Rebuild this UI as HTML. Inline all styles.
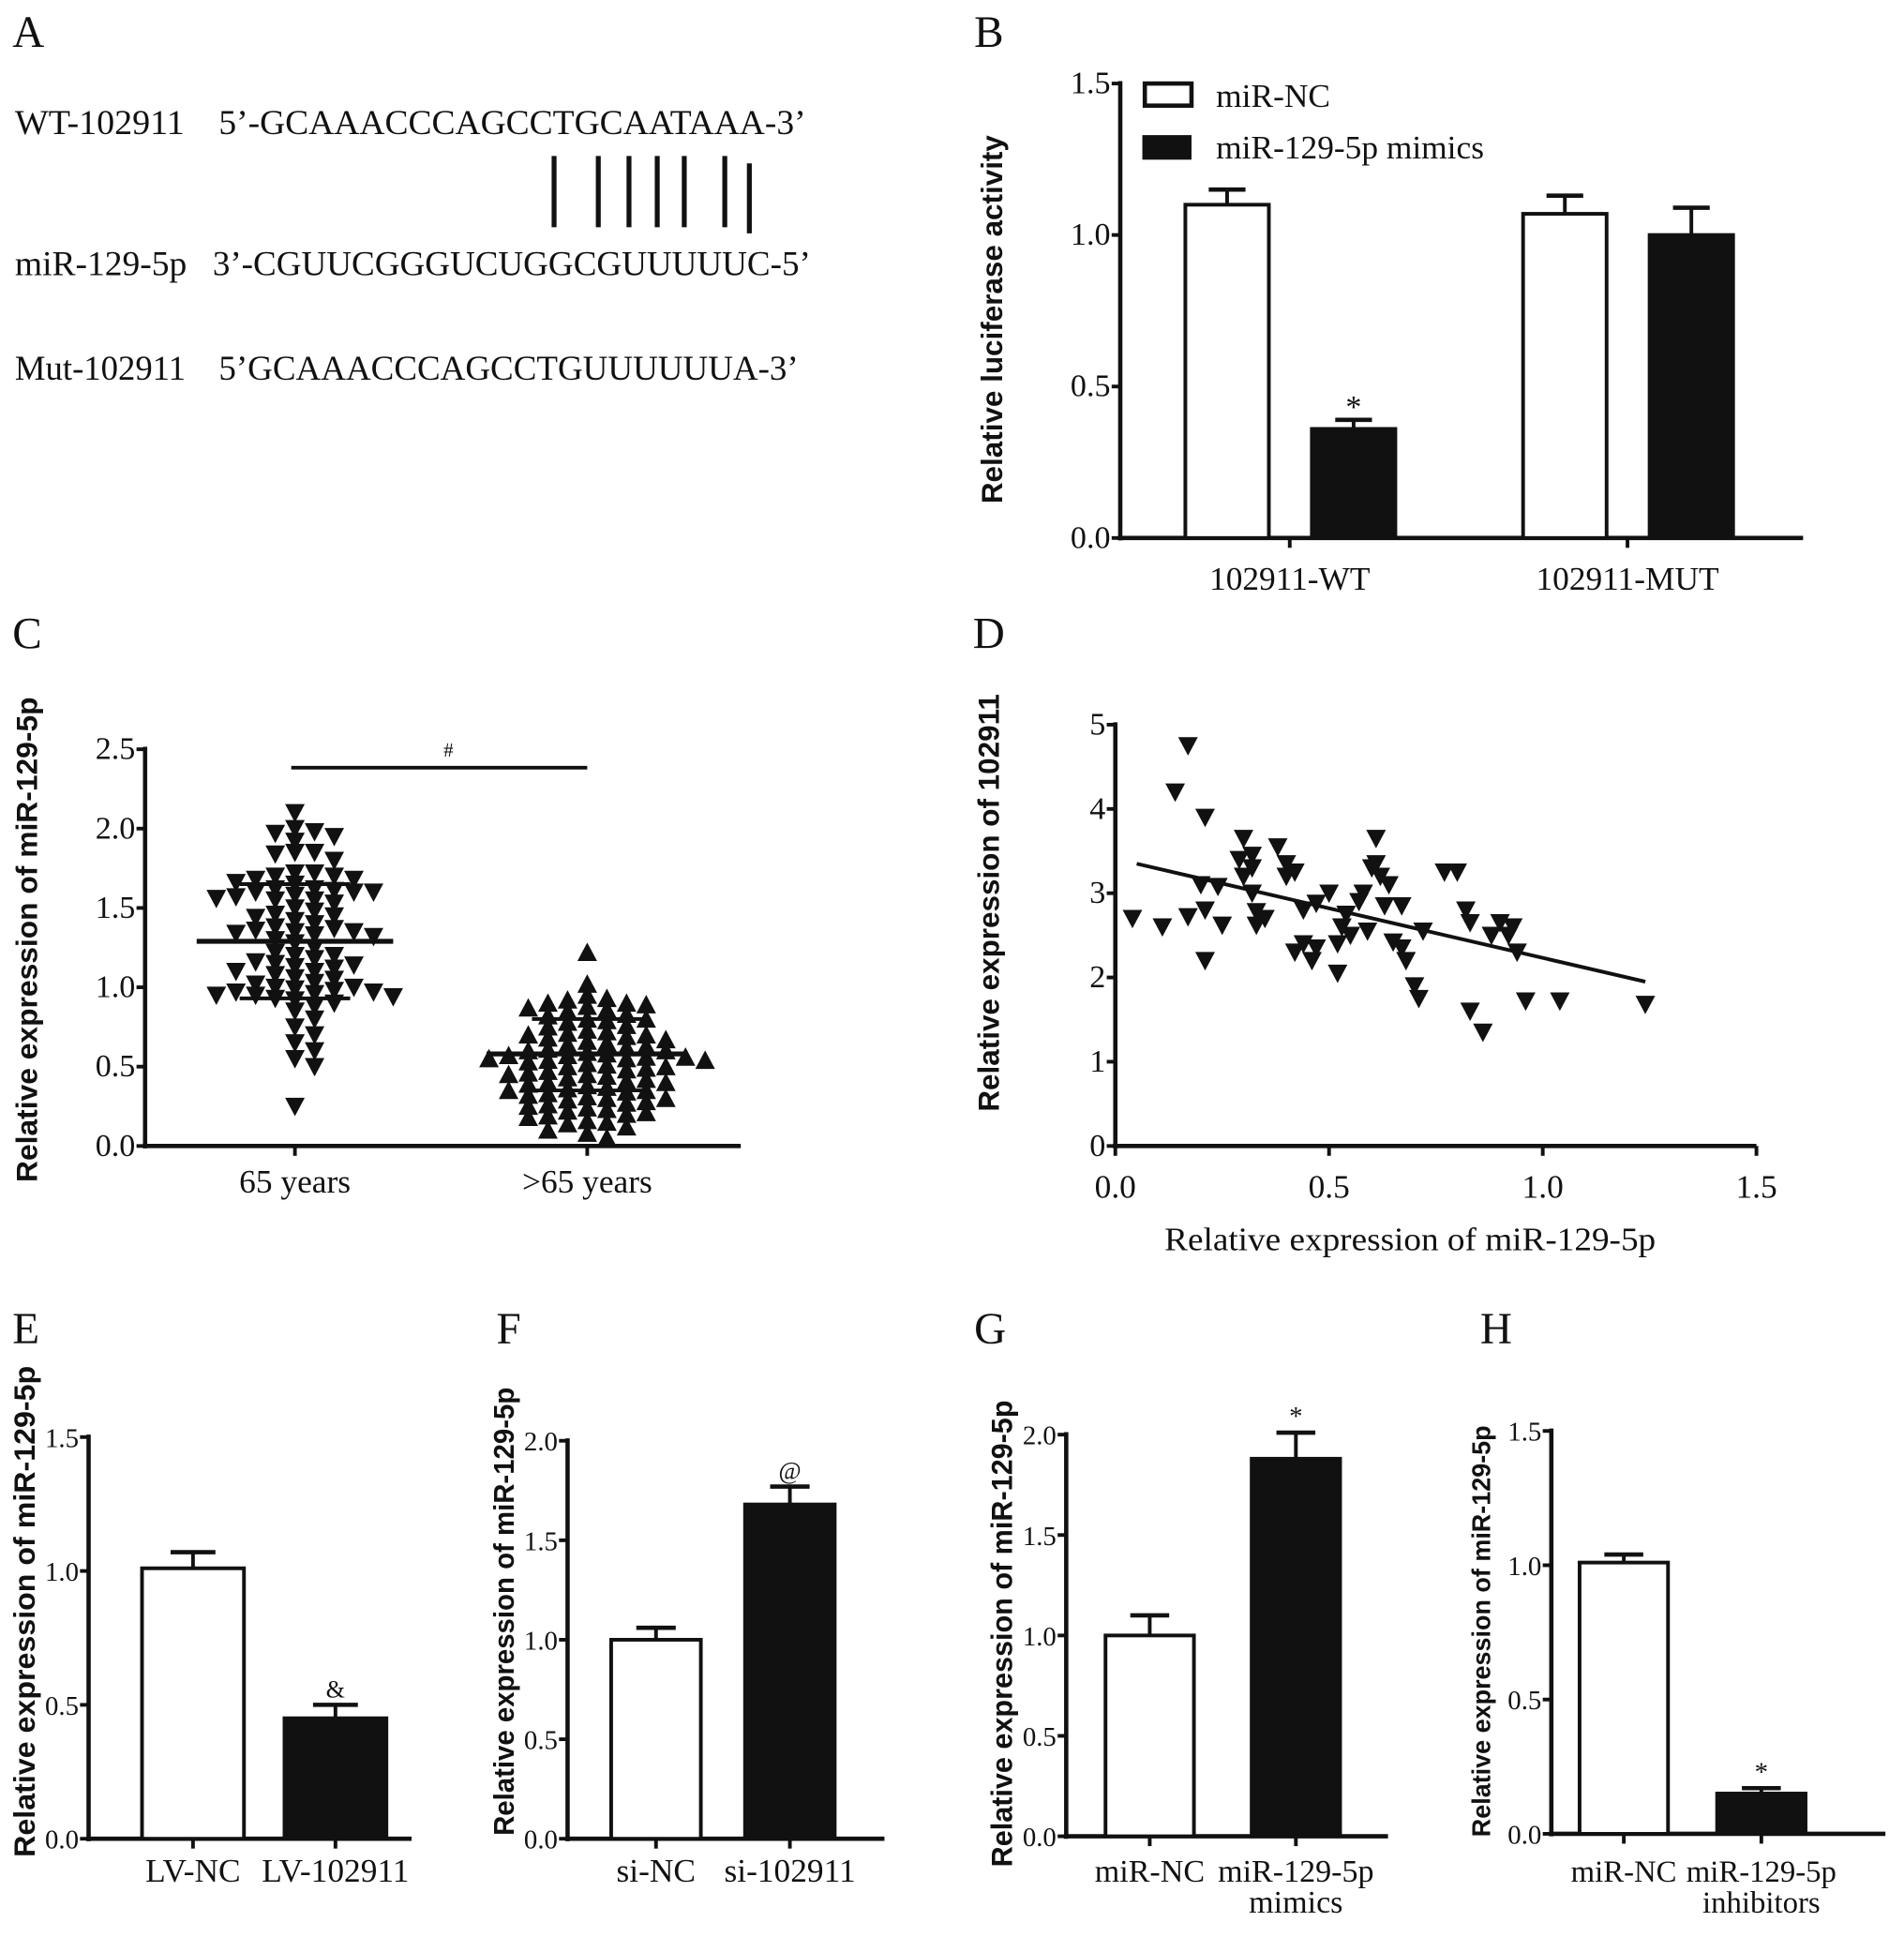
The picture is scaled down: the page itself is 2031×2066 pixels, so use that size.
<!DOCTYPE html>
<html><head><meta charset="utf-8"><style>
html,body{margin:0;padding:0;background:#fff}
svg{display:block}
.t{font-family:"Liberation Serif",serif;fill:#111}
.s{font-family:"Liberation Sans",sans-serif;font-weight:bold;fill:#111}
</style></head><body>
<svg id="fig" xmlns="http://www.w3.org/2000/svg" width="2031" height="2066" viewBox="0 0 1550 1577">
<g>
<text class="t" x="10" y="38" font-size="36">A</text>
<text class="t" x="12" y="109" font-size="28" textLength="138" lengthAdjust="spacingAndGlyphs">WT-102911</text>
<text class="t" x="178" y="109" font-size="28" textLength="478" lengthAdjust="spacingAndGlyphs">5’-GCAAACCCAGCCTGCAATAAA-3’</text>
<text class="t" x="12" y="224" font-size="28" textLength="140" lengthAdjust="spacingAndGlyphs">miR-129-5p</text>
<text class="t" x="173" y="224" font-size="28" textLength="487" lengthAdjust="spacingAndGlyphs">3’-CGUUCGGGUCUGGCGUUUUUC-5’</text>
<text class="t" x="12" y="309" font-size="28" textLength="139" lengthAdjust="spacingAndGlyphs">Mut-102911</text>
<text class="t" x="178" y="309" font-size="28" textLength="472" lengthAdjust="spacingAndGlyphs">5’GCAAACCCAGCCTGUUUUUUA-3’</text>
<g stroke="#111" stroke-width="4">
<line x1="451" y1="127" x2="451" y2="185"/><line x1="487" y1="127" x2="487" y2="185"/><line x1="512" y1="127" x2="512" y2="185"/><line x1="535" y1="127" x2="535" y2="185"/><line x1="557" y1="127" x2="557" y2="185"/><line x1="590" y1="127" x2="590" y2="185"/><line x1="610" y1="133" x2="610" y2="190"/>
</g>
</g>
<g id="root"></g>
</svg>
<script>
// ---- Panel B data ----
const bCats=["102911-WT","102911-MUT"];
const bNC=[1.10,1.07];
const bNCerr=[0.05,0.06];
const bMim=[0.36,1.00];
const bMimErr=[0.03,0.09];
const bTicks=["0.0","0.5","1.0","1.5"];
// ---- Panel C data ----
const cCats=["65 years",">65 years"];
const cYoung=[2.1,2.0,1.98,1.97,1.95,1.92,1.85,1.85,1.84,1.8,1.72,1.72,1.7,1.7,1.68,1.68,1.66,1.65,1.62,1.62,1.61,1.6,1.6,1.6,1.58,1.57,1.56,1.55,1.55,1.53,1.5,1.48,1.46,1.45,1.44,1.42,1.4,1.38,1.37,1.36,1.35,1.35,1.34,1.33,1.32,1.3,1.28,1.25,1.22,1.2,1.2,1.18,1.16,1.15,1.14,1.13,1.12,1.1,1.1,1.08,1.06,1.05,1.03,1.02,1.0,1.0,0.99,0.98,0.97,0.97,0.96,0.95,0.95,0.94,0.93,0.92,0.9,0.88,0.85,0.8,0.75,0.7,0.65,0.6,0.55,0.5,0.25];
const cOld=[1.22,1.02,0.95,0.93,0.92,0.9,0.9,0.89,0.88,0.87,0.86,0.85,0.83,0.82,0.8,0.8,0.79,0.78,0.76,0.75,0.73,0.72,0.71,0.7,0.7,0.69,0.68,0.67,0.66,0.65,0.64,0.63,0.62,0.61,0.6,0.6,0.59,0.58,0.57,0.57,0.56,0.56,0.55,0.55,0.54,0.54,0.53,0.52,0.51,0.5,0.5,0.49,0.48,0.47,0.46,0.45,0.45,0.44,0.43,0.42,0.41,0.4,0.4,0.39,0.38,0.37,0.36,0.35,0.35,0.34,0.33,0.32,0.31,0.3,0.3,0.29,0.28,0.27,0.26,0.25,0.24,0.23,0.22,0.21,0.2,0.19,0.18,0.16,0.15,0.14,0.12,0.1,0.08,0.05];
const cMean=[1.29,0.58];
const cSdLow=[0.93,0.35];
const cSdHigh=[1.65,0.80];
const cTicks=["0.0","0.5","1.0","1.5","2.0","2.5"];
// ---- Panel D data ----
const dX=[0.04,0.11,0.17,0.14,0.17,0.2,0.21,0.21,0.21,0.24,0.25,0.29,0.3,0.3,0.32,0.32,0.32,0.33,0.33,0.35,0.38,0.4,0.4,0.42,0.42,0.44,0.44,0.46,0.47,0.47,0.5,0.52,0.52,0.53,0.54,0.55,0.57,0.58,0.59,0.6,0.61,0.61,0.62,0.63,0.64,0.65,0.67,0.67,0.68,0.7,0.71,0.72,0.77,0.8,0.82,0.83,0.83,0.86,0.88,0.9,0.92,0.93,0.94,0.96,1.04,1.24];
const dY=[2.7,2.6,4.75,4.2,2.72,3.1,2.8,3.9,2.2,3.08,2.62,3.4,3.65,3.2,3.45,3.3,3.0,2.78,2.62,2.7,3.55,3.35,3.2,3.25,2.3,2.4,2.8,2.2,2.35,2.88,3.0,2.05,2.4,2.6,2.75,2.5,2.9,3.0,2.55,3.3,3.35,3.65,3.2,2.85,3.1,2.42,2.35,2.85,2.2,1.9,1.75,2.55,3.25,3.25,2.8,2.65,1.6,1.35,2.5,2.65,2.5,2.6,2.3,1.72,1.72,1.68];
const dFitX=[0.05,1.24];
const dFitY=[3.35,1.95];
const dYTicks=["0","1","2","3","4","5"];
const dXTicks=["0.0","0.5","1.0","1.5"];
// ---- Panels E-H data ----
const eCats=["LV-NC","LV-102911"]; const eVals=[1.01,0.45]; const eErr=[0.06,0.05];
const fCats=["si-NC","si-102911"]; const fVals=[1.0,1.68]; const fErr=[0.06,0.09];
const gCats=["miR-NC","miR-129-5p|mimics"]; const gVals=[1.0,1.88]; const gErr=[0.1,0.13];
const hCats=["miR-NC","miR-129-5p|inhibitors"]; const hVals=[1.01,0.15]; const hErr=[0.03,0.02];
const ehTicks=["0.0","0.5","1.0","1.5"];
const fgTicks=["0.0","0.5","1.0","1.5","2.0"];

const NS="http://www.w3.org/2000/svg";
const root=document.getElementById('root');
function mk(tag,attrs,parent){const e=document.createElementNS(NS,tag);for(const k in attrs)e.setAttribute(k,attrs[k]);(parent||root).appendChild(e);return e;}
function txt(s,attrs,parent){const e=mk('text',attrs,parent);e.textContent=s;return e;}
function group(name){const g=mk('g',{});


return g;}

function axes(g,ax,y0,y1,xEnd,ticks,maxV,fs){
  const yScale=v=>y0-(v/maxV)*(y0-y1);
  const yl=mk('line',{x1:ax,y1:y1-2,x2:ax,y2:y0+2,stroke:'#111','stroke-width':3.5},g);
  
  
  const xl=mk('line',{x1:ax-2,y1:y0,x2:xEnd,y2:y0,stroke:'#111','stroke-width':3.5},g);
  
  
  ticks.forEach(t=>{const v=parseFloat(t);const y=yScale(v);
    mk('line',{x1:ax-7,y1:y,x2:ax,y2:y,stroke:'#111','stroke-width':3},g);
    const l=txt(t,{class:'t',x:ax-8,y:y+8,'font-size':fs||24,'text-anchor':'end'},g);
    
    
  });
  return yScale;
}
function ytitle(g,s,x,y,len,fs){const e=txt(s,{class:'s',x:x,y:y,'font-size':fs,'text-anchor':'middle',textLength:len,lengthAdjust:'spacingAndGlyphs',transform:`rotate(-90 ${x} ${y})`},g);
  
  }
function panelLabel(g,s,x,y){const e=txt(s,{class:'t',x:x,y:y,'font-size':36},g);
  
  }
function bar(g,cx,w,v,err,ys,y0,black,name){
  const top=ys(v),et=ys(v+err);
  mk('line',{x1:cx,y1:top,x2:cx,y2:et,stroke:'#111','stroke-width':3},g);
  mk('line',{x1:cx-w*0.22,y1:et,x2:cx+w*0.22,y2:et,stroke:'#111','stroke-width':3.5},g);
  const r=mk('rect',{x:cx-w/2,y:top,width:w,height:y0-top,fill:black?'#111':'#fff',stroke:'#111','stroke-width':3},g);
  
  
  return et;
}
function catLabel(g,s,x,y,fs){s.split('|').forEach((p,i)=>{const e=txt(p,{class:'t',x:x,y:y+i*25,'font-size':fs,'text-anchor':'middle'},g);
  
  });}

// ---- B ----
(function(){const g=group('panel-b');panelLabel(g,'B',793,38);
 const ax=912,y0=438,y1=68;const ys=axes(g,ax,y0,y1,1468,bTicks,1.5,26);
 ytitle(g,'Relative luciferase activity',816,260,300,24);
 const c0=1050,step=275,w=68;
 bCats.forEach((c,i)=>{const cx=c0+i*step;
   mk('line',{x1:cx,y1:y0,x2:cx,y2:y0+8,stroke:'#111','stroke-width':3},g);
   bar(g,cx-51,w,bNC[i],bNCerr[i],ys,y0,false,'bar-mir-nc');
   const et=bar(g,cx+52,w,bMim[i],bMimErr[i],ys,y0,true,'bar-mir-mimics');
   if(i===0){const s=txt('*',{class:'t',x:cx+52,y:et-2,'font-size':26,'text-anchor':'middle'},g);
     
     }
   catLabel(g,c,cx,480,27);});
 const lg=mk('g',{},g);
 
 
 mk('rect',{x:932,y:68,width:38,height:18,fill:'#fff',stroke:'#111','stroke-width':3.5},lg);
 mk('rect',{x:930,y:110,width:40,height:20,fill:'#111'},lg);
 txt('miR-NC',{class:'t',x:990,y:87,'font-size':27},lg);
 txt('miR-129-5p mimics',{class:'t',x:990,y:129,'font-size':27},lg);
})();

// ---- C ----
(function(){const g=group('panel-c');panelLabel(g,'C',10,528);
 const ax=118,y0=933,y1=610;const ys=axes(g,ax,y0,y1,603,cTicks,2.5,26);
 ytitle(g,'Relative expression of miR-129-5p',30,765,395,24);
 const centers=[240,478];
 mk('line',{x1:237,y1:625,x2:478,y2:625,stroke:'#111','stroke-width':3},g);
 txt('#',{class:'t',x:365,y:616,'font-size':16,'text-anchor':'middle'},g);
 [cYoung,cOld].forEach((vals,gi)=>{const cx=centers[gi];
   mk('line',{x1:cx,y1:y0,x2:cx,y2:y0+8,stroke:'#111','stroke-width':3},g);
   catLabel(g,cCats[gi],cx,971,27);
   const placed=[];const d=8;
   vals.forEach(v=>{const y=ys(v);let off=0;
     for(let k=0;k<24;k++){off=(k%2?1:-1)*Math.ceil(k/2)*d;
       if(!placed.some(p=>Math.abs(p[0]-off)<12&&Math.abs(p[1]-y)<8))break;}
     placed.push([off,y]);const x=cx+off;
     const pts=gi===0?`${x-8},${y-7} ${x+8},${y-7} ${x},${y+8}`:`${x-8},${y+7} ${x+8},${y+7} ${x},${y-8}`;
     const p=mk('polygon',{points:pts,fill:'#111'},g);
     
     });
   const hw=gi===0?80:82;
   mk('line',{x1:cx-hw,y1:ys(cMean[gi]),x2:cx+hw,y2:ys(cMean[gi]),stroke:'#111','stroke-width':4},g);
   mk('line',{x1:cx,y1:ys(cSdLow[gi]),x2:cx,y2:ys(cSdHigh[gi]),stroke:'#111','stroke-width':3},g);
   mk('line',{x1:cx-45,y1:ys(cSdLow[gi]),x2:cx+45,y2:ys(cSdLow[gi]),stroke:'#111','stroke-width':3},g);
   mk('line',{x1:cx-45,y1:ys(cSdHigh[gi]),x2:cx+45,y2:ys(cSdHigh[gi]),stroke:'#111','stroke-width':3},g);
 });
})();

// ---- D ----
(function(){const g=group('panel-d');panelLabel(g,'D',792,528);
 const ax=908,y0=933,y1=590,xr=1430;const ys=axes(g,ax,y0,y1,xr,dYTicks,5,26);
 const xs=v=>ax+v/1.5*(xr-ax);
 dXTicks.forEach(t=>{const x=xs(parseFloat(t));mk('line',{x1:x,y1:y0,x2:x,y2:y0+8,stroke:'#111','stroke-width':3},g);
   const l=txt(t,{class:'t',x:x,y:975,'font-size':27,'text-anchor':'middle'},g);
   
   });
 ytitle(g,'Relative expression of 102911',813,735,340,24);
 const xt=txt('Relative expression of miR-129-5p',{class:'t',x:1148,y:1018,'font-size':27,'text-anchor':'middle',textLength:400,lengthAdjust:'spacingAndGlyphs'},g);
 
 
 dX.forEach((v,i)=>{const x=xs(v),y=ys(dY[i]);
   const p=mk('polygon',{points:`${x-8},${y-7} ${x+8},${y-7} ${x},${y+8}`,fill:'#111'},g);
   
   });
 const f=mk('line',{x1:xs(dFitX[0]),y1:ys(dFitY[0]),x2:xs(dFitX[1]),y2:ys(dFitY[1]),stroke:'#111','stroke-width':3},g);
 
 
})();

// ---- E-H ----
function small(name,label,lx,ax,y0,y1,xEnd,ticks,maxV,cats,vals,errs,c0,step,w,mark,tx,ty,tlen,tfs,lblY,cfs){
 const g=group(name);panelLabel(g,label,lx,1094);
 const ys=axes(g,ax,y0,y1,xEnd,ticks,maxV,22);
 ytitle(g,'Relative expression of miR-129-5p',tx,ty,tlen,tfs);
 cats.forEach((c,i)=>{const cx=c0+i*step;
   mk('line',{x1:cx,y1:y0,x2:cx,y2:y0+8,stroke:'#111','stroke-width':3},g);
   const et=bar(g,cx,w,vals[i],errs[i],ys,y0,i===1,i===0?'bar-control':'bar-treatment');
   if(i===1){const s=txt(mark,{class:'t',x:cx,y:et-6,'font-size':mark==='*'?22:20,'text-anchor':'middle'},g);
     
     }
   catLabel(g,c,cx,lblY,cfs);});
}
small('panel-e','E',10,72,1497,1170,335,ehTicks,1.5,eCats,eVals,eErr,157,116,83,'&',28,1312,400,24,1532,27);
small('panel-f','F',404,462,1497,1173,720,fgTicks,2.0,fCats,fVals,fErr,534,109,73,'@',418,1312,365,23,1532,27);
small('panel-g','G',793,868,1495,1168,1130,fgTicks,2.0,gCats,gVals,gErr,936,119,72,'*',824,1330,380,24,1532,26);
small('panel-h','H',1205,1263,1493,1165,1535,ehTicks,1.5,hCats,hVals,hErr,1322,112,72,'*',1213,1328,335,21,1532,25);
</script>
</body></html>
